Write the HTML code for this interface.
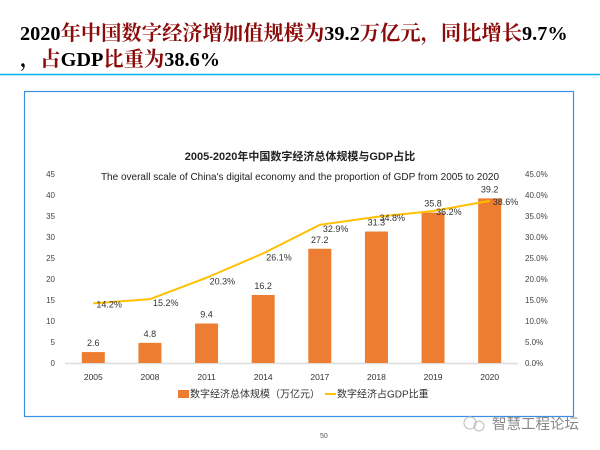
<!DOCTYPE html>
<html><head><meta charset="utf-8">
<style>
body{margin:0;width:600px;height:450px;background:#fff;overflow:hidden;position:relative;font-family:"Liberation Sans","Noto Sans CJK SC",sans-serif}
#hdr{position:absolute;left:20px;top:21px;font-family:"Liberation Serif","Noto Serif CJK SC",serif;font-weight:bold;font-size:20.3px;line-height:26px;color:#000;white-space:nowrap}
#hdr .r{color:#8b0a0a}
</style></head><body>
<div id="hdr">2020<span class="r">年中国数字经济增加值规模为</span>39.2<span class="r">万亿元，同比增长</span>9.7%<br>，<span class="r">占</span>GDP<span class="r">比重为</span>38.6%</div>
<svg id="svg" width="600" height="450" style="position:absolute;left:0;top:0" xmlns="http://www.w3.org/2000/svg">
<line x1="0" y1="74.5" x2="600" y2="74.5" stroke="#00b4f0" stroke-width="1.5"/>
<rect x="24.5" y="91.5" width="549" height="325" fill="none" stroke="#3a8ee6" stroke-width="1.2"/>
<text x="300" y="160" text-anchor="middle" font-size="11" font-weight="bold" fill="#222">2005-2020年中国数字经济总体规模与GDP占比</text>
<text x="300" y="180" text-anchor="middle" font-size="10" fill="#222">The overall scale of China's digital economy and the proportion of GDP from 2005 to 2020</text>
<g id="plot"></g>
<rect x="178" y="390" width="11" height="8" fill="#ed7d31"/>
<text x="190" y="397.5" font-size="10" fill="#333">数字经济总体规模（万亿元）</text>
<line x1="325" y1="394" x2="336" y2="394" stroke="#ffc000" stroke-width="2"/>
<text x="337" y="397.5" font-size="10" fill="#333">数字经济占GDP比重</text>
<text x="320" y="438" font-size="7" fill="#555">50</text>
<g>
<circle cx="470" cy="423" r="6" fill="none" stroke="#bbb" stroke-width="1"/>
<circle cx="479" cy="426" r="5" fill="none" stroke="#bbb" stroke-width="1"/>
<text x="492" y="429" font-size="14.5" fill="#888">智慧工程论坛</text>
</g>
</svg>
<script>
const categories=["2005","2008","2011","2014","2017","2018","2019","2020"];
const scaleValues=[2.6,4.8,9.4,16.2,27.2,31.3,35.8,39.2];
const gdpShare=[14.2,15.2,20.3,26.1,32.9,34.8,36.2,38.6];
const leftTicks=[0,5,10,15,20,25,30,35,40,45];
const rightTicks=["0.0%","5.0%","10.0%","15.0%","20.0%","25.0%","30.0%","35.0%","40.0%","45.0%"];
const NS="http://www.w3.org/2000/svg";
const g=document.getElementById('plot');
const y0=363,yTop=174,xL=65,xR=518;
const yL=v=>y0-(v/45)*(y0-yTop);
const yR=p=>y0-(p/45)*(y0-yTop);
const step=(xR-xL)/categories.length;
const xC=i=>xL+step*(i+0.5);
function mk(tag,attrs,txt){const e=document.createElementNS(NS,tag);for(const k in attrs)e.setAttribute(k,attrs[k]);if(txt!=null)e.textContent=txt;g.appendChild(e);return e;}
const ax=mk('line',{x1:xL,y1:y0+0.5,x2:xR,y2:y0+0.5,stroke:'#ddd','stroke-width':1.5});


leftTicks.forEach(t=>{const e=mk('text',{x:55,y:yL(t)+3,'text-anchor':'end','font-size':8,fill:'#444'},t);

});
rightTicks.forEach((t,i)=>{const e=mk('text',{x:525,y:yR(i*5)+3,'font-size':8,fill:'#444'},t);

});
categories.forEach((c,i)=>{
const v=scaleValues[i],x=xC(i),bw=23;
const b=mk('rect',{x:x-bw/2,y:yL(v),width:bw,height:y0-yL(v),fill:'#ed7d31'});


const l=mk('text',{x:x,y:yL(v)-6,'text-anchor':'middle','font-size':9,fill:'#333'},v.toFixed(1));


const xl=mk('text',{x:x,y:380,'text-anchor':'middle','font-size':8.5,fill:'#333'},c);


});
const pts=gdpShare.map((p,i)=>xC(i)+','+yR(p)).join(' ');
const pl=mk('polyline',{points:pts,fill:'none',stroke:'#ffc000','stroke-width':2});


gdpShare.forEach((p,i)=>{const dy=(i===0)?4:(i>=5?4:7);const t=mk('text',{x:xC(i)+3,y:yR(p)+dy,'font-size':9,fill:'#333'},p.toFixed(1)+'%');

});
</script>
</body></html>
